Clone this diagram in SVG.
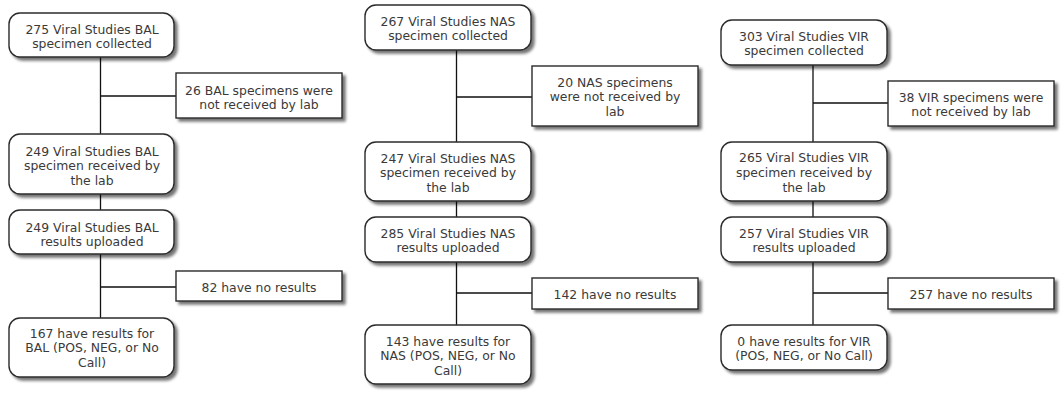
<svg xmlns="http://www.w3.org/2000/svg" width="1062" height="393" viewBox="0 0 1062 393">
<defs>
<filter id="sh" x="-10%" y="-20%" width="130%" height="150%">
<feGaussianBlur in="SourceAlpha" stdDeviation="1.6"/>
<feOffset dx="3" dy="3" result="b"/>
<feComponentTransfer><feFuncA type="linear" slope="0.55"/></feComponentTransfer>
<feMerge><feMergeNode/><feMergeNode in="SourceGraphic"/></feMerge>
</filter>
</defs>
<style>
.n{fill:#fff;stroke:#2b2b2b;stroke-width:1.4;filter:url(#sh)}
.c{stroke:#111;stroke-width:1.3;fill:none}
text{font-family:"DejaVu Sans",Verdana,sans-serif;font-size:12.4px;fill:#3a3a3a;text-anchor:middle}
</style>
<rect width="1062" height="393" fill="#fff"/>
<g id="connectors">
<path class="c" d="M100.5 57V134M100.5 96H176M100.5 194V210M100.5 254V318M100.5 287H176"/>
<path class="c" d="M456.5 50V142M456.5 97H532M456.5 201V217M456.5 262V325M456.5 293H532"/>
<path class="c" d="M813 65V142M813 103H888M813 201V217M813 262V325M813 293H888"/>
</g>
<g id="bal1"><rect class="n" x="9" y="13" width="165" height="44" rx="11"/><text x="92" y="33.5">275 Viral Studies BAL</text><text x="92" y="47.5">specimen collected</text></g>
<g id="bal_ex1"><rect class="n" x="176" y="73" width="166" height="45"/><text x="259" y="94.5">26 BAL specimens were</text><text x="259" y="108.5">not received by lab</text></g>
<g id="bal2"><rect class="n" x="9" y="134" width="165" height="60" rx="11"/><text x="92" y="155.5">249 Viral Studies BAL</text><text x="92" y="169.5">specimen received by</text><text x="92" y="184.5">the lab</text></g>
<g id="bal3"><rect class="n" x="9" y="210" width="165" height="44" rx="11"/><text x="92" y="231.5">249 Viral Studies BAL</text><text x="92" y="245.5">results uploaded</text></g>
<g id="bal_ex2"><rect class="n" x="176" y="271" width="166" height="30"/><text x="259" y="291.5">82 have no results</text></g>
<g id="bal4"><rect class="n" x="9" y="318" width="165" height="59" rx="11"/><text x="92" y="337.5">167 have results for</text><text x="92" y="352">BAL (POS, NEG, or No</text><text x="92" y="367">Call)</text></g>

<g id="nas1"><rect class="n" x="365" y="5" width="166" height="45" rx="11"/><text x="448" y="25.5">267 Viral Studies NAS</text><text x="448" y="39.5">specimen collected</text></g>
<g id="nas_ex1"><rect class="n" x="532" y="66" width="166" height="60"/><text x="615" y="86.5">20 NAS specimens</text><text x="615" y="101">were not received by</text><text x="615" y="115.5">lab</text></g>
<g id="nas2"><rect class="n" x="365" y="142" width="166" height="59" rx="11"/><text x="448" y="162.5">247 Viral Studies NAS</text><text x="448" y="177">specimen received by</text><text x="448" y="191.5">the lab</text></g>
<g id="nas3"><rect class="n" x="365" y="217" width="166" height="45" rx="11"/><text x="448" y="237.5">285 Viral Studies NAS</text><text x="448" y="252">results uploaded</text></g>
<g id="nas_ex2"><rect class="n" x="532" y="278" width="166" height="31"/><text x="615" y="298.5">142 have no results</text></g>
<g id="nas4"><rect class="n" x="365" y="325" width="166" height="59" rx="11"/><text x="448" y="345.5">143 have results for</text><text x="448" y="359.5">NAS (POS, NEG, or No</text><text x="448" y="374.5">Call)</text></g>

<g id="vir1"><rect class="n" x="721" y="20" width="166" height="45" rx="11"/><text x="804" y="40.5">303 Viral Studies VIR</text><text x="804" y="54.5">specimen collected</text></g>
<g id="vir_ex1"><rect class="n" x="888" y="81" width="166" height="45"/><text x="971" y="101.5">38 VIR specimens were</text><text x="971" y="115.5">not received by lab</text></g>
<g id="vir2"><rect class="n" x="721" y="142" width="166" height="59" rx="11"/><text x="804" y="161.5">265 Viral Studies VIR</text><text x="804" y="176.5">specimen received by</text><text x="804" y="191.5">the lab</text></g>
<g id="vir3"><rect class="n" x="721" y="217" width="166" height="45" rx="11"/><text x="804" y="237.5">257 Viral Studies VIR</text><text x="804" y="252">results uploaded</text></g>
<g id="vir_ex2"><rect class="n" x="888" y="278" width="166" height="31"/><text x="971" y="298.5">257 have no results</text></g>
<g id="vir4"><rect class="n" x="721" y="325" width="166" height="45" rx="11"/><text x="804" y="345.5">0 have results for VIR</text><text x="804" y="359.5">(POS, NEG, or No Call)</text></g>
</svg>
